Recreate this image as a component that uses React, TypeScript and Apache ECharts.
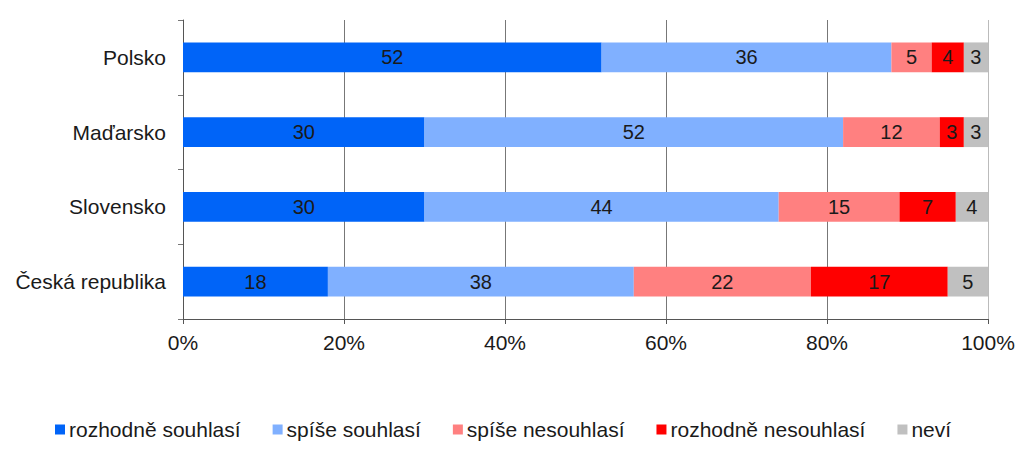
import React, { useEffect, useRef } from "react";
import * as echarts from "echarts";

const categories = ["Polsko", "Maďarsko", "Slovensko", "Česká republika"];
const seriesNames = [
  "rozhodně souhlasí",
  "spíše souhlasí",
  "spíše nesouhlasí",
  "rozhodně nesouhlasí",
  "neví",
];
const rozhodneSouhlasi = [52, 30, 30, 18];
const spiseSouhlasi = [36, 52, 44, 38];
const spiseNesouhlasi = [5, 12, 15, 22];
const rozhodneNesouhlasi = [4, 3, 7, 17];
const nevi = [3, 3, 4, 5];
const seriesValues = [rozhodneSouhlasi, spiseSouhlasi, spiseNesouhlasi, rozhodneNesouhlasi, nevi];
const colors = ["#0064f8", "#80b0ff", "#ff8080", "#ff0000", "#c0c0c0"];
const xTicks = [0, 20, 40, 60, 80, 100];

const FONT = "'Liberation Sans', Arial, sans-serif";

export default function App() {
  const ref = useRef<HTMLDivElement>(null);
  useEffect(() => {
    if (!ref.current) return;
    const chart = echarts.init(ref.current, undefined, { renderer: "svg" });
    chart.setOption({
      animation: false,
      textStyle: { fontFamily: FONT },
      grid: { left: 183, right: 36, top: 20, bottom: 138, containLabel: false },
      xAxis: {
        type: "value",
        min: xTicks[0],
        max: xTicks[xTicks.length - 1],
        interval: 20,
        axisLine: { show: true, lineStyle: { color: "#555", width: 1 } },
        axisTick: { show: true, length: 5, lineStyle: { color: "#555" } },
        axisLabel: {
          formatter: "{value}%",
          color: "#1a1a1a",
          fontSize: 21,
          fontFamily: FONT,
          margin: 13,
        },
        splitLine: {
          show: true,
          lineStyle: { color: ["#777", "#777", "#777", "#777", "#777", "#bbb"], width: 1 },
        },
      },
      yAxis: {
        type: "category",
        data: categories,
        inverse: true,
        axisLine: { show: true, lineStyle: { color: "#555", width: 1 } },
        axisTick: { show: true, length: 5, lineStyle: { color: "#777" } },
        axisLabel: { color: "#1a1a1a", fontSize: 21, fontFamily: FONT, margin: 17 },
      },
      legend: {
        data: seriesNames,
        bottom: 12,
        left: 50,
        icon: "rect",
        itemWidth: 10,
        itemHeight: 10,
        itemGap: 32,
        textStyle: { color: "#1a1a1a", fontSize: 21, fontFamily: FONT, padding: [0, 0, 0, -1] },
      },
      series: seriesNames.map((name, i) => ({
        name,
        type: "bar",
        stack: "total",
        barWidth: "40%",
        data: seriesValues[i],
        itemStyle: { color: colors[i] },
        label: {
          show: true,
          position: "inside",
          color: "#1a1a1a",
          fontSize: 20,
          fontFamily: FONT,
        },
      })),
    });
    return () => chart.dispose();
  }, []);
  return (
    <div
      ref={ref}
      style={{ position: "fixed", left: 0, top: 0, width: 1024, height: 457, background: "#fff" }}
    />
  );
}
